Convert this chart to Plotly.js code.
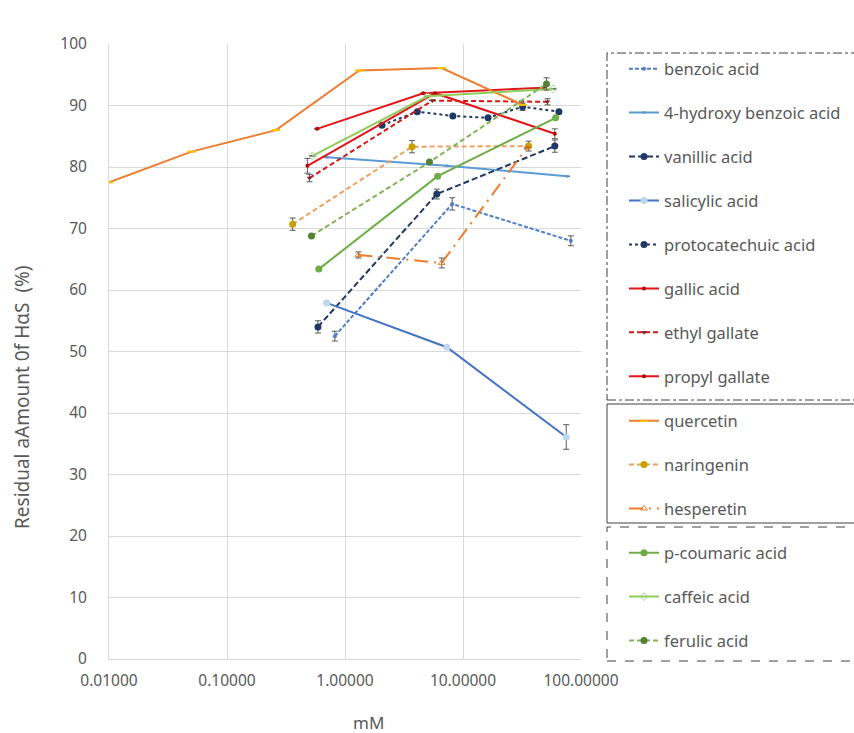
<!DOCTYPE html>
<html>
<head>
<meta charset="utf-8">
<script src="https://cdn.plot.ly/plotly-3.0.1.min.js"></script>
<style>html,body{margin:0;padding:0;background:#fff;}#chart{width:854px;height:733px;}</style>
</head>
<body>
<div id="chart"></div>
<script>
// ---- data (concentration in mM, residual amount in %) ----
const seriesNames = ["benzoic acid","4-hydroxy benzoic acid","vanillic acid","salicylic acid","protocatechuic acid","gallic acid","ethyl gallate","propyl gallate","quercetin","naringenin","hesperetin","p-coumaric acid","caffeic acid","ferulic acid"];

const benzoicX = [0.82, 8.1, 82];
const benzoicY = [52.5, 74.0, 68.0];
const benzoicErr = [0.8, 1.0, 0.8];

const hydroxyX = [0.70, 7.3, 76];
const hydroxyY = [81.6, 80.2, 78.5];
const hydroxyErr = [0, 0, 0];

const vanillicX = [0.59, 6.0, 60];
const vanillicY = [54.0, 75.6, 83.4];
const vanillicErr = [1.0, 0.8, 1.0];

const salicylicX = [0.70, 7.3, 75];
const salicylicY = [57.9, 50.7, 36.1];
const salicylicErr = [0, 0, 2.0];

const protoX = [2.06, 4.1, 8.2, 16.3, 32, 65];
const protoY = [86.8, 89.0, 88.3, 88.0, 89.8, 89.0];
const protoErr = [0, 0, 0, 0, 0.6, 0];

const gallicX = [0.58, 4.6, 48];
const gallicY = [86.2, 92.0, 92.9];
const gallicErr = [0, 0, 0];

const ethylX = [0.50, 5.5, 52];
const ethylY = [78.2, 90.8, 90.6];
const ethylErr = [0.6, 0, 0.5];

const propylX = [0.48, 5.8, 60];
const propylY = [80.2, 92.0, 85.4];
const propylErr = [1.2, 0, 0.8];

const quercetinX = [0.01, 0.05, 0.26, 1.32, 6.6, 32];
const quercetinY = [77.5, 82.5, 86.0, 95.7, 96.1, 90.1];
const quercetinErr = [0, 0, 0, 0, 0, 0];

const naringeninX = [0.36, 3.7, 36];
const naringeninY = [70.7, 83.3, 83.4];
const naringeninErr = [1.0, 1.0, 0.8];

const hesperetinX = [1.3, 6.6, 35];
const hesperetinY = [65.7, 64.4, 83.2];
const hesperetinErr = [0.5, 0.8, 0];

const pcoumaricX = [0.60, 6.1, 61];
const pcoumaricY = [63.4, 78.5, 88.0];
const pcoumaricErr = [0, 0, 0];

const caffeicX = [0.53, 5.0, 58];
const caffeicY = [81.8, 91.5, 92.7];
const caffeicErr = [0, 0, 0];

const ferulicX = [0.52, 5.2, 51];
const ferulicY = [68.8, 80.8, 93.5];
const ferulicErr = [0, 0, 1.0];

const xTickVals = [0.01, 0.1, 1, 10, 100];
const xTickText = ["0.01000", "0.10000", "1.00000", "10.00000", "100.00000"];
const yTickVals = [0, 10, 20, 30, 40, 50, 60, 70, 80, 90, 100];
const xTitle = "mM";
const yTitle = "Residual aAmount 0f HαS  (%)";

// ---- styles ----
function mk(i, x, y, err, color, dash, marker, legend) {
  return {
    type: "scatter", mode: "lines+markers", name: seriesNames[i],
    x: x, y: y, legend: legend, legendgroup: "g" + i,
    line: {color: color, width: 2, dash: dash},
    marker: marker,
    error_y: {type: "data", array: err, visible: true, color: "#595959", thickness: 1, width: 3},
    hoverinfo: "x+y+name"
  };
}

const traces = [
  mk(0, benzoicX, benzoicY, benzoicErr, "#4f7ec6", "4px,2px", {symbol: "circle", size: 4, color: "#4f7ec6"}, "legend"),
  mk(1, hydroxyX, hydroxyY, hydroxyErr, "#5b9bd5", "solid", {symbol: "circle", size: 3, color: "#5b9bd5"}, "legend"),
  mk(2, vanillicX, vanillicY, vanillicErr, "#1f3864", "6px,3px", {symbol: "circle", size: 7, color: "#1f3864"}, "legend"),
  mk(3, salicylicX, salicylicY, salicylicErr, "#4472c4", "solid", {symbol: "circle", size: 7, color: "#bdd7ee"}, "legend"),
  mk(4, protoX, protoY, protoErr, "#203864", "dot", {symbol: "circle", size: 7, color: "#203864"}, "legend"),
  mk(5, gallicX, gallicY, gallicErr, "#e0161b", "solid", {symbol: "circle", size: 4, color: "#c00000"}, "legend"),
  mk(6, ethylX, ethylY, ethylErr, "#d01818", "5px,3px", {symbol: "triangle-down", size: 5, color: "#7f2a2a"}, "legend"),
  mk(7, propylX, propylY, propylErr, "#e0161b", "solid", {symbol: "circle", size: 4, color: "#c00000"}, "legend"),
  mk(8, quercetinX, quercetinY, quercetinErr, "#ed7d31", "solid", {symbol: "line-ew", size: 6, color: "#ffc000", line: {color: "#ffc000", width: 2}}, "legend2"),
  mk(9, naringeninX, naringeninY, naringeninErr, "#f0a060", "5px,3px", {symbol: "circle", size: 7, color: "#c9a000"}, "legend2"),
  mk(10, hesperetinX, hesperetinY, hesperetinErr, "#ed7d31", "14px,6px,2px,6px", {symbol: "triangle-up-open", size: 6, color: "#ed7d31"}, "legend2"),
  mk(11, pcoumaricX, pcoumaricY, pcoumaricErr, "#70ad47", "solid", {symbol: "circle", size: 7, color: "#70ad47"}, "legend3"),
  mk(12, caffeicX, caffeicY, caffeicErr, "#8fcc5a", "solid", {symbol: "diamond-open", size: 6, color: "#a9d18e"}, "legend3"),
  mk(13, ferulicX, ferulicY, ferulicErr, "#7fb356", "5px,3px", {symbol: "circle", size: 7, color: "#548235"}, "legend3")
];

const W = 854, H = 733, L = 109, R = 581, T = 44, B = 659;
const px = v => (v - L) / (R - L);
const py = v => (B - v) / (B - T);

const FONT = "Noto Sans, DejaVu Sans, sans-serif";
const legendFont = {family: FONT, size: 16.5, color: "#595959"};
function leg(xp, yp) {
  return {x: px(xp), y: py(yp), xanchor: "left", yanchor: "top", bgcolor: "rgba(0,0,0,0)",
    borderwidth: 0, font: legendFont, traceorder: "grouped", tracegroupgap: 19.5, itemclick: false};
}

const layout = {
  width: W, height: H,
  margin: {l: L, r: W - R, t: T, b: H - B, pad: 0, autoexpand: false},
  paper_bgcolor: "#ffffff", plot_bgcolor: "#ffffff",
  font: {family: FONT, size: 15, color: "#595959"},
  showlegend: true,
  xaxis: {
    type: "log", range: [-2, 2], tickvals: xTickVals, ticktext: xTickText,
    showgrid: true, gridcolor: "#d9d9d9", gridwidth: 1,
    showline: true, linecolor: "#d9d9d9", linewidth: 1, zeroline: false,
    ticks: "outside", ticklen: 7, tickcolor: "rgba(0,0,0,0)",
    tickfont: {family: FONT, size: 15.5, color: "#595959"},
    automargin: false
  },
  yaxis: {
    range: [0, 100], tickvals: yTickVals,
    showgrid: true, gridcolor: "#d9d9d9", gridwidth: 1,
    showline: true, linecolor: "#d9d9d9", linewidth: 1, zeroline: false,
    ticks: "outside", ticklen: 18, tickcolor: "rgba(0,0,0,0)",
    tickfont: {family: FONT, size: 15.5, color: "#595959"},
    automargin: false
  },
  annotations: [
    {text: xTitle, xref: "paper", yref: "paper", x: px(368), y: py(722), xanchor: "center", yanchor: "middle",
      showarrow: false, font: {family: FONT, size: 17, color: "#595959"}},
    {text: yTitle, xref: "paper", yref: "paper", x: px(22), y: py(397), xanchor: "center", yanchor: "middle",
      textangle: -90, showarrow: false, font: {family: FONT, size: 19, color: "#595959"}}
  ],
  legend: leg(624, 51.4),
  legend2: leg(624, 403.4),
  legend3: leg(624, 535.4),
  shapes: [
    {type: "rect", xref: "paper", yref: "paper", x0: px(607), x1: px(866), y0: py(400), y1: py(53),
      line: {color: "#404040", width: 1, dash: "dashdot"}, fillcolor: "rgba(0,0,0,0)"},
    {type: "rect", xref: "paper", yref: "paper", x0: px(607), x1: px(866), y0: py(523), y1: py(404),
      line: {color: "#404040", width: 1, dash: "solid"}, fillcolor: "rgba(0,0,0,0)"},
    {type: "rect", xref: "paper", yref: "paper", x0: px(607), x1: px(866), y0: py(661), y1: py(527),
      line: {color: "#404040", width: 1, dash: "dash"}, fillcolor: "rgba(0,0,0,0)"}
  ]
};

Plotly.newPlot("chart", traces, layout, {displayModeBar: false, staticPlot: true});
</script>
</body>
</html>
